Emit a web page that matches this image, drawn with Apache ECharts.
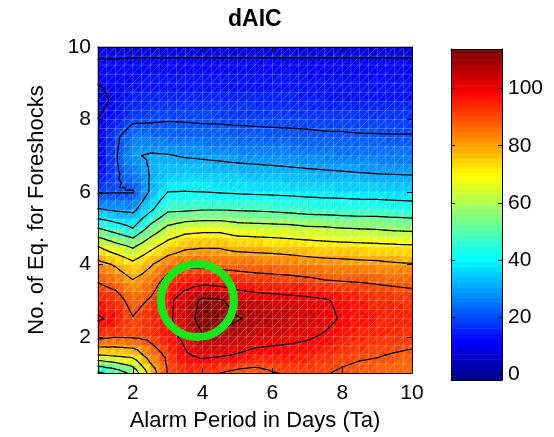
<!DOCTYPE html>
<html><head><meta charset="utf-8">
<script src="https://cdn.jsdelivr.net/npm/echarts@6/dist/echarts.min.js"></script>
<style>html,body{margin:0;padding:0;background:#fff}#c{width:554px;height:437px}</style>
</head><body><div id="c"></div>
<script>
// ---- data ----
const xNodes = [1,1.5,2,2.5,3,3.5,4,4.5,5,5.5,6,6.5,7,7.5,8,8.5,9,9.5,10];
const yNodes = [1,1.5,2,2.5,3,3.5,4,4.5,5,5.5,6,6.5,7,7.5,8,8.5,9,9.5,10];
// dAIC values, one row per y node, across x nodes
const dAIC_y1_0 = [38,44,53,74,90.5,93,92,90,87.5,86.5,89.5,91,91,90.5,89,88,87.5,86.5,86];
const dAIC_y1_5 = [70,72,73.5,85,92,99,102,101,99.5,97.5,97,97,96,94,92,91,90.5,89.5,88.5];
const dAIC_y2_0 = [93,90.5,91,92.5,97,102,109,108,106,104,103,102,101,99,96.5,95,94,93.5,93];
const dAIC_y2_5 = [101,98,90.5,95,98,105,114,113.5,110.5,108.5,107,105.5,104,102.5,99,97.5,96,95.5,95];
const dAIC_y3_0 = [96,94,86.5,91,98,104,112,111,107,105,104,103,102,101,98,96,94,93.5,93];
const dAIC_y3_5 = [90,87,81.5,85.5,94,97,98,97,95,94,93.5,93,92.5,91,90.5,90,89.5,89,88.5];
const dAIC_y4_0 = [83,79,72.5,79,85.5,88,88,87,87,86.5,86,85.5,84,83.5,83,82.5,82,81,80.5];
const dAIC_y4_5 = [70,63.5,58.5,67,74,78,79,79,77,76.5,76,75,74.5,73.5,73,72.5,72,71.5,71];
const dAIC_y5_0 = [50,45,40,53,62,66,67,67,64.5,64,63.5,63,61.5,61,60,59.5,59,58,57.5];
const dAIC_y5_5 = [31,29,28,38.5,48.5,49,50,50,49.5,49,48.5,47.5,46.5,46,45.5,45,45,44.5,44];
const dAIC_y6_0 = [19,19.5,19.5,31,40,40.2,40,39.4,38.9,38.5,38.2,37.8,37.4,37.1,36.9,36.6,36.4,36.1,35.9];
const dAIC_y6_5 = [12,18.5,24.5,30.5,35,34.8,34.4,33.9,33.3,32.9,32.5,32,31.5,31.1,30.7,30.3,30,29.8,29.6];
const dAIC_y7_0 = [10.5,19,29,31,30.5,29.4,28.9,28.3,27.8,27.4,27.1,26.7,26.3,26,25.8,25.6,25.4,25.2,25.1];
const dAIC_y7_5 = [10.5,18.5,25,24,24,23.7,23.2,22.8,22.4,22.1,21.9,21.6,21.3,21.1,21,20.8,20.7,20.6,20.6];
const dAIC_y8_0 = [10.3,14,18.5,19,19.5,19.3,19,19,18.8,18.7,18.5,18.5,18.5,18,18,17.5,17.5,17.5,17.5];
const dAIC_y8_5 = [7,12,15,15.5,16,16,16,15.5,15.5,15.5,15,15,15,14.5,14.5,14.5,14.5,14.5,14.5];
const dAIC_y9_0 = [10.3,12,12.5,13,13,13,13,13,13,13,13,13,12.5,12.5,12.5,12.5,12.5,12.5,12.5];
const dAIC_y9_5 = [11.5,11.5,12,12,12,12,12,12,12,12,12,12,12,12,12,12,12,12,12];
const dAIC_y10_0 = [7,7,7,7,7,7,7,7,7,7,7,7,7,7,7,7,7,7,7];
const zRows = [dAIC_y1_0,dAIC_y1_5,dAIC_y2_0,dAIC_y2_5,dAIC_y3_0,dAIC_y3_5,dAIC_y4_0,dAIC_y4_5,
  dAIC_y5_0,dAIC_y5_5,dAIC_y6_0,dAIC_y6_5,dAIC_y7_0,dAIC_y7_5,dAIC_y8_0,dAIC_y8_5,dAIC_y9_0,dAIC_y9_5,dAIC_y10_0];
const contourLevels = [10,20,30,40,50,60,70,80,90,100,110];
const colorMin = -2.1, colorMax = 113.9;
const xTicks = [2,4,6,8,10];
const yTicks = [2,4,6,8,10];
const cbTicks = [0,20,40,60,80,100];
const bestPoint = [3.85, 3.0];

// ---- helpers ----
const SUB = 2; // facets per data cell (drawing only)
const FONT = 'Liberation Sans';
function clamp01(v){return v<0?0:(v>1?1:v);}
function jetK(k){ // MATLAB jet(64) entry k (1..64)
  const s = k/64;
  const r = clamp01(Math.min(4*s-1.5, -4*s+4.5));
  const g = clamp01(Math.min(4*s-0.5, -4*s+3.5));
  const b = clamp01(Math.min(4*s+0.5, -4*s+2.5));
  return 'rgb('+Math.round(r*255)+','+Math.round(g*255)+','+Math.round(b*255)+')';
}
function jetColor(v){
  let k = Math.floor((v-colorMin)/(colorMax-colorMin)*64)+1;
  if(k<1)k=1; if(k>64)k=64;
  return jetK(k);
}
const nx = xNodes.length, ny = yNodes.length;
function zAt(fi,fj){
  let i0=Math.min(Math.floor(fi),nx-2), j0=Math.min(Math.floor(fj),ny-2);
  const tx=fi-i0, ty=fj-j0;
  const a=zRows[j0][i0], b=zRows[j0][i0+1], c=zRows[j0+1][i0], d=zRows[j0+1][i0+1];
  return a*(1-tx)*(1-ty)+b*tx*(1-ty)+c*(1-tx)*ty+d*tx*ty;
}
function xAt(fi){const i0=Math.min(Math.floor(fi),nx-2);return xNodes[i0]+(xNodes[i0+1]-xNodes[i0])*(fi-i0);}
function yAt(fj){const j0=Math.min(Math.floor(fj),ny-2);return yNodes[j0]+(yNodes[j0+1]-yNodes[j0])*(fj-j0);}

const cells = [];
for(let j=0;j<ny-1;j++) for(let i=0;i<nx-1;i++) cells.push([xNodes[i], yNodes[j], i, j]);

function renderCell(params, api){
  const i=api.value(2), j=api.value(3);
  const children=[];
  for(let b=0;b<SUB;b++) for(let a=0;a<SUB;a++){
    const fi0=i+a/SUB, fi1=i+(a+1)/SUB, fj0=j+b/SUB, fj1=j+(b+1)/SUB;
    const BL=api.coord([xAt(fi0),yAt(fj0)]), BR=api.coord([xAt(fi1),yAt(fj0)]);
    const TR=api.coord([xAt(fi1),yAt(fj1)]), TL=api.coord([xAt(fi0),yAt(fj1)]);
    const vBL=zAt(fi0,fj0), vBR=zAt(fi1,fj0), vTR=zAt(fi1,fj1), vTL=zAt(fi0,fj1);
    const c1=jetColor((vBL+vBR+vTR)/3), c2=jetColor((vBL+vTR+vTL)/3);
    children.push({type:'polygon',shape:{points:[BL,BR,TR]},style:{fill:c1,stroke:c1,lineWidth:0.6}});
    children.push({type:'polygon',shape:{points:[BL,TR,TL]},style:{fill:c2,stroke:c2,lineWidth:0.6}});
  }
  return {type:'group',children};
}

function renderMesh(params, api){
  const children=[]; const st={stroke:'rgba(255,255,255,0.3)',lineWidth:0.7};
  const NI=(nx-1)*SUB, NJ=(ny-1)*SUB;
  for(let a=1;a<NI;a++){const p=api.coord([xAt(a/SUB),yNodes[0]]),q=api.coord([xAt(a/SUB),yNodes[ny-1]]);
    children.push({type:'line',shape:{x1:p[0],y1:p[1],x2:q[0],y2:q[1]},style:st});}
  for(let b=1;b<NJ;b++){const p=api.coord([xNodes[0],yAt(b/SUB)]),q=api.coord([xNodes[nx-1],yAt(b/SUB)]);
    children.push({type:'line',shape:{x1:p[0],y1:p[1],x2:q[0],y2:q[1]},style:st});}
  for(let d=-(NJ-1);d<NI;d++){
    const a0=Math.max(0,d), b0=a0-d; const n=Math.min(NI-a0,NJ-b0);
    if(n<=0)continue;
    const p=api.coord([xAt(a0/SUB),yAt(b0/SUB)]), q=api.coord([xAt((a0+n)/SUB),yAt((b0+n)/SUB)]);
    children.push({type:'line',shape:{x1:p[0],y1:p[1],x2:q[0],y2:q[1]},style:st});
  }
  return {type:'group',children};
}

function renderContours(params, api){
  const children=[]; const NI=(nx-1)*SUB, NJ=(ny-1)*SUB;
  const P=[],V=[];
  for(let b=0;b<=NJ;b++){P.push([]);V.push([]);for(let a=0;a<=NI;a++){P[b].push(api.coord([xAt(a/SUB),yAt(b/SUB)]));V[b].push(zAt(a/SUB,b/SUB));}}
  const st={stroke:'#000',lineWidth:1.2,lineCap:'round'};
  function tri(pts,vals){
    for(const L of contourLevels){
      const seg=[];
      for(let e=0;e<3;e++){
        const v0=vals[e],v1=vals[(e+1)%3];
        if((v0>=L)!==(v1>=L)){
          const t=(L-v0)/(v1-v0); const p0=pts[e],p1=pts[(e+1)%3];
          seg.push([p0[0]+(p1[0]-p0[0])*t,p0[1]+(p1[1]-p0[1])*t]);
        }
      }
      if(seg.length===2) children.push({type:'line',shape:{x1:seg[0][0],y1:seg[0][1],x2:seg[1][0],y2:seg[1][1]},style:st});
    }
  }
  for(let b=0;b<NJ;b++) for(let a=0;a<NI;a++){
    tri([P[b][a],P[b][a+1],P[b+1][a+1]],[V[b][a],V[b][a+1],V[b+1][a+1]]);
    tri([P[b][a],P[b+1][a+1],P[b+1][a]],[V[b][a],V[b+1][a+1],V[b+1][a]]);
  }
  return {type:'group',children};
}

function renderColorbar(params, api){
  const children=[];
  for(let k=1;k<=64;k++){
    const v0=colorMin+(k-1)*(colorMax-colorMin)/64, v1=colorMin+k*(colorMax-colorMin)/64;
    const p=api.coord([0,v1]), q=api.coord([1,v0]);
    children.push({type:'rect',shape:{x:p[0],y:p[1],width:q[0]-p[0],height:q[1]-p[1]+0.5},style:{fill:jetK(k)}});
  }
  return {type:'group',children};
}

function renderCircle(params, api){
  const c=api.coord([api.value(0),api.value(1)]);
  return {type:'circle',shape:{cx:c[0],cy:c[1],r:36.5},style:{fill:'none',stroke:'#19e619',lineWidth:8}};
}

const axisBase = {axisLine:{show:true,onZero:false,lineStyle:{color:'#000',width:1}},splitLine:{show:false},z:10};
const chart = echarts.init(document.getElementById('c'),null,{renderer:'canvas'});
chart.setOption({
  animation:false,
  backgroundColor:'#fff',
  title:{text:'dAIC',left:228,top:8,padding:0,textStyle:{fontFamily:FONT,fontSize:23,fontWeight:'bold',color:'#000'}},
  grid:[{left:98,top:47,width:314,height:329},{left:451,top:49,width:51,height:331}],
  xAxis:[
    Object.assign({gridIndex:0,type:'value',min:1,max:10,position:'bottom',
      axisTick:{show:true,inside:true,length:5,customValues:xTicks,lineStyle:{color:'#000'}},
      axisLabel:{customValues:xTicks,fontFamily:FONT,fontSize:21,color:'#000',margin:10},
      name:'Alarm Period in Days (Ta)',nameLocation:'middle',nameGap:37,
      nameTextStyle:{fontFamily:FONT,fontSize:22,color:'#000'}},axisBase),
    Object.assign({gridIndex:0,type:'value',min:1,max:10,position:'top',
      axisTick:{show:true,inside:true,length:5,customValues:xTicks,lineStyle:{color:'#000'}},
      axisLabel:{show:false}},axisBase),
    Object.assign({gridIndex:1,type:'value',min:0,max:1,position:'bottom',axisTick:{show:false},axisLabel:{show:false}},axisBase),
    Object.assign({gridIndex:1,type:'value',min:0,max:1,position:'top',axisTick:{show:false},axisLabel:{show:false}},axisBase)
  ],
  yAxis:[
    Object.assign({gridIndex:0,type:'value',min:1,max:10,position:'left',
      axisTick:{show:true,inside:true,length:5,customValues:yTicks,lineStyle:{color:'#000'}},
      axisLabel:{customValues:yTicks,fontFamily:FONT,fontSize:21,color:'#000',margin:7},
      name:'No. of Eq. for Foreshocks',nameLocation:'middle',nameGap:50,
      nameTextStyle:{fontFamily:FONT,fontSize:22,color:'#000'}},axisBase),
    Object.assign({gridIndex:0,type:'value',min:1,max:10,position:'right',
      axisTick:{show:true,inside:true,length:5,customValues:yTicks,lineStyle:{color:'#000'}},
      axisLabel:{show:false}},axisBase),
    Object.assign({gridIndex:1,type:'value',min:colorMin,max:colorMax,position:'right',
      axisTick:{show:true,inside:true,length:4,customValues:cbTicks,lineStyle:{color:'#000'}},
      axisLabel:{customValues:cbTicks,fontFamily:FONT,fontSize:21,color:'#000',margin:6}},axisBase),
    Object.assign({gridIndex:1,type:'value',min:colorMin,max:colorMax,position:'left',
      axisTick:{show:true,inside:true,length:4,customValues:cbTicks,lineStyle:{color:'#000'}},
      axisLabel:{show:false}},axisBase)
  ],
  series:[
    {type:'custom',name:'surface',xAxisIndex:0,yAxisIndex:0,data:cells,encode:{x:0,y:1},renderItem:renderCell,z:1,silent:true},
    {type:'custom',name:'mesh',xAxisIndex:0,yAxisIndex:0,data:[[xNodes[0],yNodes[0]]],encode:{x:0,y:1},renderItem:renderMesh,z:2,silent:true},
    {type:'custom',name:'contours',xAxisIndex:0,yAxisIndex:0,data:[[xNodes[0],yNodes[0]]],encode:{x:0,y:1},renderItem:renderContours,z:3,silent:true},
    {type:'custom',name:'best',xAxisIndex:0,yAxisIndex:0,data:[bestPoint],encode:{x:0,y:1},renderItem:renderCircle,z:4,silent:true},
    {type:'custom',name:'colorbar',xAxisIndex:2,yAxisIndex:2,data:[[0,colorMin]],encode:{x:0,y:1},renderItem:renderColorbar,z:1,silent:true}
  ]
});
</script></body></html>
